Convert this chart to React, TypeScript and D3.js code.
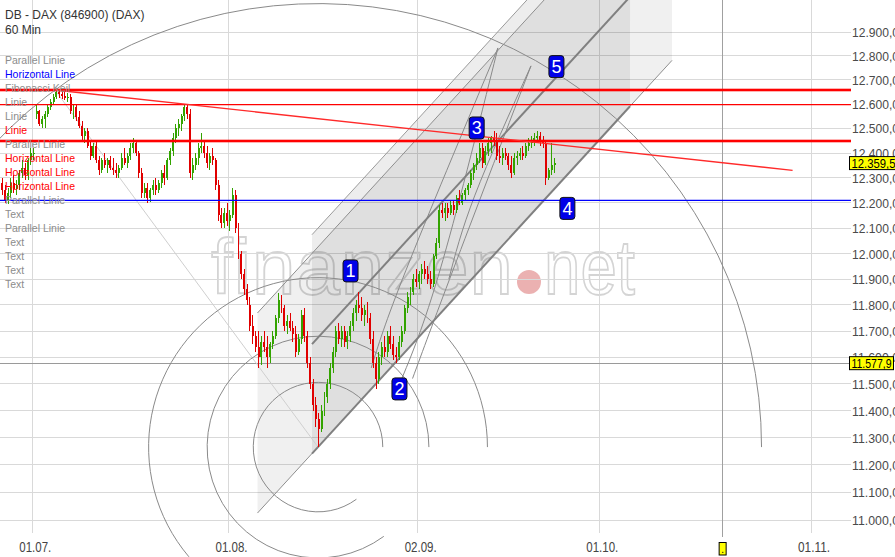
import { useMemo } from "react";
import * as d3 from "d3";

const W = 895;
const H = 557;

// x axis: trading-day index (0 = 01.07.)
const tickDays = [0, 23, 45, 66, 89];
const tickLabels = ["01.07.", "01.08.", "02.09.", "01.10.", "01.11."];
const priceTicks = [
  11000, 11100, 11200, 11300, 11400, 11500, 11600, 11700, 11800, 11900,
  12000, 12100, 12200, 12300, 12400, 12500, 12600, 12700, 12800, 12900,
];

// hourly-ish candles, 3 per trading day, starting 25.06.
const firstBarDay = -3.67;
const barsPerDay = 3;
const candles: number[][] = [
  [12280,12300,12230,12250],[12250,12270,12200,12210],[12210,12260,12195,12240],
  [12240,12300,12220,12280],[12280,12310,12240,12255],[12255,12290,12230,12270],
  [12270,12330,12250,12320],[12320,12370,12300,12340],[12340,12360,12290,12310],
  [12310,12380,12290,12370],[12370,12420,12350,12400],[12400,12420,12370,12400],
  [12560,12600,12540,12570],[12570,12575,12510,12520],[12520,12550,12500,12540],
  [12540,12570,12500,12560],[12560,12600,12545,12590],[12590,12620,12575,12610],
  [12610,12640,12600,12630],[12630,12660,12620,12650],[12650,12656,12625,12640],
  [12640,12655,12620,12635],[12635,12650,12615,12625],[12625,12645,12610,12630],
  [12630,12640,12560,12570],[12570,12600,12540,12590],[12590,12595,12530,12545],
  [12545,12570,12500,12510],[12510,12530,12450,12470],[12470,12500,12440,12490],
  [12490,12500,12420,12430],[12430,12450,12370,12390],[12390,12440,12380,12430],
  [12430,12450,12360,12370],[12370,12390,12310,12330],[12330,12380,12320,12370],
  [12370,12400,12340,12350],[12350,12380,12320,12370],[12370,12390,12330,12340],
  [12340,12380,12310,12330],[12330,12360,12300,12320],[12320,12350,12300,12340],
  [12340,12400,12330,12380],[12380,12420,12350,12360],[12360,12400,12340,12390],
  [12390,12440,12370,12420],[12420,12460,12400,12440],[12440,12450,12390,12400],
  [12400,12410,12300,12320],[12320,12340,12220,12240],[12240,12280,12220,12260],
  [12260,12280,12200,12220],[12220,12260,12205,12250],[12250,12290,12230,12270],
  [12270,12300,12230,12250],[12250,12290,12240,12280],[12280,12330,12260,12320],
  [12320,12350,12270,12300],[12300,12380,12290,12370],[12370,12420,12350,12410],
  [12410,12480,12390,12460],[12460,12520,12440,12500],[12500,12540,12470,12520],
  [12520,12560,12490,12550],[12550,12600,12530,12590],[12590,12600,12540,12560],
  [12560,12580,12300,12320],[12320,12380,12290,12350],[12350,12400,12330,12380],
  [12380,12440,12350,12420],[12420,12480,12400,12430],[12430,12450,12380,12400],
  [12400,12430,12340,12360],[12360,12400,12330,12390],[12390,12420,12350,12370],
  [12370,12380,12250,12270],[12270,12290,12130,12150],[12150,12180,12100,12120],
  [12120,12180,12100,12160],[12160,12200,12110,12130],[12130,12170,12090,12150],
  [12150,12260,12140,12230],[12230,12250,12080,12100],[12100,12120,11980,12000],
  [12000,12010,11900,11920],[11920,11940,11840,11860],[11860,11880,11800,11820],
  [11800,11830,11700,11720],[11720,11760,11650,11680],[11680,11700,11620,11640],
  [11640,11700,11560,11600],[11600,11680,11570,11660],[11660,11700,11620,11640],
  [11640,11680,11560,11600],[11600,11660,11580,11650],[11650,11700,11630,11680],
  [11680,11760,11670,11750],[11750,11845,11730,11820],[11820,11840,11770,11790],
  [11790,11800,11700,11720],[11720,11760,11690,11740],[11740,11770,11700,11710],
  [11710,11740,11660,11690],[11690,11720,11600,11620],[11620,11690,11610,11670],
  [11670,11780,11650,11760],[11760,11790,11660,11680],[11680,11700,11560,11580],
  [11580,11600,11480,11500],[11500,11520,11400,11420],[11420,11450,11340,11370],
  [11370,11390,11265,11330],[11330,11420,11320,11400],[11400,11470,11380,11450],
  [11450,11520,11430,11500],[11500,11580,11480,11560],[11560,11640,11540,11620],
  [11620,11720,11600,11700],[11700,11730,11650,11670],[11670,11720,11640,11700],
  [11700,11720,11640,11660],[11660,11700,11630,11680],[11680,11740,11660,11720],
  [11720,11790,11700,11770],[11770,11820,11740,11800],[11800,11850,11770,11790],
  [11790,11830,11740,11760],[11760,11800,11720,11780],[11780,11810,11730,11750],
  [11750,11770,11650,11670],[11670,11700,11560,11580],[11580,11600,11480,11520],
  [11520,11620,11500,11600],[11600,11660,11570,11640],[11640,11680,11600,11620],
  [11620,11700,11600,11680],[11680,11720,11630,11650],[11650,11680,11590,11610],
  [11610,11640,11580,11600],[11600,11680,11590,11660],[11660,11720,11640,11700],
  [11700,11800,11690,11790],[11790,11850,11770,11830],[11830,11870,11800,11850],
  [11850,11920,11840,11900],[11900,11940,11870,11890],[11890,11930,11860,11920],
  [11920,11960,11880,11940],[11940,11970,11900,11920],[11920,11950,11880,11900],
  [11900,11930,11860,11880],[11880,12000,11870,11990],[11990,12060,11980,12040],
  [12040,12190,12020,12170],[12170,12200,12140,12160],[12160,12200,12130,12180],
  [12180,12200,12140,12160],[12160,12210,12150,12190],[12190,12210,12150,12170],
  [12170,12230,12160,12220],[12220,12250,12190,12200],[12200,12240,12190,12230],
  [12230,12260,12210,12250],[12250,12280,12230,12270],[12270,12330,12260,12320],
  [12320,12360,12290,12350],[12350,12400,12330,12380],[12380,12440,12360,12420],
  [12420,12440,12340,12360],[12360,12430,12350,12410],[12410,12460,12390,12440],
  [12440,12470,12400,12460],[12460,12490,12430,12450],[12450,12480,12370,12390],
  [12390,12430,12360,12380],[12380,12420,12350,12400],[12400,12420,12370,12390],
  [12390,12400,12330,12350],[12350,12390,12300,12320],[12320,12400,12310,12380],
  [12380,12410,12350,12390],[12390,12420,12370,12400],[12400,12430,12370,12390],
  [12390,12440,12380,12430],[12430,12460,12410,12440],[12440,12470,12420,12450],
  [12450,12480,12430,12460],[12460,12490,12440,12470],[12470,12485,12430,12450],
  [12450,12470,12420,12440],[12440,12450,12270,12300],[12300,12340,12290,12330],
  [12330,12440,12310,12350],[12350,12380,12320,12359.5],
];

const lastPrice = 12359.5;
const crossPrice = 11577.9;
const eventDay = 79.4;

// drawings
const redLevels = [12658, 12598, 12449];
const redLevelBold = [true, false, true];
const blueLevel = 12210;
const trendLine = [[2.66, 12658], [87.0, 12330]];
const fibHigh = [2.66, 12658];
const fibLow = [33.41, 11265];
const fibLevels = [0.146, 0.25, 0.382, 1];
const channelOuter = { from: [26.37, 11025], to: [73.9, 12781], upper: 1.0675 };
const channelInner = { from: [32.71, 11241], to: [69.34, 12591], upper: 1.0741, middle: 1.0364 };
const wedgeCurves = [
  [[39.6, 11560], [43.64, 11935], [54.28, 12833]],
  [[42.9, 11500], [47.58, 11935], [54.28, 12833]],
  [[44.4, 11520], [49.08, 11935], [58.1, 12758]],
  [[48.6, 11900], [51.62, 12231], [58.1, 12758]],
];
const markerLabels = ["1", "2", "3", "4", "5"];
const markerDays = [37.19, 42.88, 51.82, 62.31, 61.04];
const markerPrices = [11932, 11481, 12502, 12178, 12755];

const legendItems = [
  "Parallel Linie", "Horizontal Line", "Fibonacci Keil", "Linie", "Linie", "Linie",
  "Parallel Linie", "Horizontal Line", "Horizontal Line", "Horizontal Line",
  "Parallel Linie", "Text", "Parallel Linie", "Text", "Text", "Text", "Text",
];
const legendKinds = ["g", "b", "g", "g", "g", "r", "g", "r", "r", "r", "g", "g", "g", "g", "g", "g", "g"];

const GRID = "#d9d9d9";
const UP = "#33a300";
const DOWN = "#e00000";
const NARROW = "'Liberation Sans Narrow', 'Arial Narrow', 'Liberation Sans', Arial, sans-serif";
const SANS = "'Liberation Sans', Arial, sans-serif";

const de = d3.formatLocale({ decimal: ",", thousands: ".", grouping: [3], currency: ["", ""] });
const fmt = de.format(",.1f");

export default function App() {
  const xs = useMemo(
    () => d3.scaleLinear().domain(tickDays).range([32.3, 228.5, 417.7, 599.3, 811]),
    []
  );
  const ys = useMemo(() => d3.scaleLog().domain([11000, 12900]).range([520, 32]), []);
  const plotRight = 851;

  const pt = (p: number[]) => [xs(p[0]), ys(p[1])];

  // fibonacci arcs around the August low
  const [cx, cy] = pt(fibLow);
  const [hx, hy] = pt(fibHigh);
  const baseR = Math.hypot(cx - hx, cy - hy);
  const endAngle = Math.atan2(cy - hy, cx - hx);
  const arcs = fibLevels.map((f) => {
    const p = d3.path();
    const r = baseR * f;
    p.moveTo(cx + r, cy);
    p.arc(cx, cy, r, 0, endAngle, true);
    return p.toString();
  });

  const chanPoly = (c: any, k: number) => {
    const a = pt(c.from), b = pt(c.to);
    const a2 = pt([c.from[0], c.from[1] * k]), b2 = pt([c.to[0], c.to[1] * k]);
    return `M${a[0]},${a[1]}L${b[0]},${b[1]}L${b2[0]},${b2[1]}L${a2[0]},${a2[1]}Z`;
  };
  const chanLine = (c: any, k: number) => {
    const a = pt([c.from[0], c.from[1] * k]), b = pt([c.to[0], c.to[1] * k]);
    return { x1: a[0], y1: a[1], x2: b[0], y2: b[1] };
  };

  const curveGen = d3
    .line<number[]>()
    .x((d) => xs(d[0]))
    .y((d) => ys(d[1]))
    .curve(d3.curveNatural);

  const step = (xs(1) - xs(0)) / barsPerDay;
  const bw = Math.max(1, step * 0.7);

  const legendColor = (k: string) => (k === "r" ? "#ff0000" : k === "b" ? "#0000ff" : "#8c8c8c");

  const tl0 = pt(trendLine[0]);
  const tl1 = pt(trendLine[1]);
  const ex = xs(eventDay);

  return (
    <svg
      width={W}
      height={H}
      style={{ position: "absolute", left: 0, top: 0, background: "#fff" }}
      fontFamily={SANS}
    >
      <rect width={W} height={H} fill="#fff" />

      {/* watermark */}
      <g fill="none" stroke="#d4d4d4" strokeWidth={1.8} fontFamily={SANS} fontSize={78}>
        <text x={211} y={294} textLength={302} lengthAdjust="spacing">finanzen</text>
        <text x={544} y={294} textLength={91} lengthAdjust="spacingAndGlyphs">net</text>
      </g>
      <circle cx={529} cy={282} r={12} fill="#e8a3a3" opacity={0.85} />

      {/* grid */}
      {priceTicks.map((p) => (
        <line key={p} x1={0} x2={plotRight} y1={ys(p)} y2={ys(p)} stroke={GRID} shapeRendering="crispEdges" />
      ))}
      {tickDays.map((d) => (
        <line key={d} x1={xs(d)} x2={xs(d)} y1={0} y2={533} stroke={GRID} shapeRendering="crispEdges" />
      ))}

      {/* channel shading */}
      <path d={chanPoly(channelOuter, channelOuter.upper)} fill="#000" fillOpacity={0.06} />
      <path d={chanPoly(channelInner, channelInner.upper)} fill="#000" fillOpacity={0.07} />

      {/* event line and cross line */}
      <line x1={ex} x2={ex} y1={0} y2={537} stroke="#a0a0a0" shapeRendering="crispEdges" />
      <line x1={0} x2={plotRight} y1={ys(crossPrice)} y2={ys(crossPrice)} stroke="#9a9a9a" shapeRendering="crispEdges" />

      {/* fibonacci */}
      <line x1={hx} y1={hy} x2={cx} y2={cy} stroke="#cfcfcf" />
      {arcs.map((d, i) => (
        <path key={i} d={d} fill="none" stroke="#8a8a8a" strokeWidth={1} />
      ))}
      {wedgeCurves.map((c, i) => (
        <path key={i} d={curveGen(c) || ""} fill="none" stroke="#8a8a8a" strokeWidth={1} />
      ))}

      {/* channel lines */}
      <line {...chanLine(channelOuter, 1)} stroke="#8e8e8e" strokeWidth={1} />
      <line {...chanLine(channelOuter, channelOuter.upper)} stroke="#8e8e8e" strokeWidth={1} />
      <line {...chanLine(channelInner, 1)} stroke="#808080" strokeWidth={2} />
      <line {...chanLine(channelInner, channelInner.middle)} stroke="#808080" strokeWidth={2} />
      <line {...chanLine(channelInner, channelInner.upper)} stroke="#9a9a9a" strokeWidth={1} />

      {/* candles */}
      <g shapeRendering="crispEdges">
        {candles.map((c, i) => {
          const [o, h, l, cl] = c;
          const x = xs(firstBarDay + (i + 0.5) / barsPerDay);
          const col = cl >= o ? UP : DOWN;
          const top = ys(Math.max(o, cl));
          const bh = Math.max(1, Math.abs(ys(o) - ys(cl)));
          return (
            <g key={i}>
              <line x1={x} x2={x} y1={ys(h)} y2={ys(l)} stroke={col} />
              <rect x={x - bw / 2} y={top} width={bw} height={bh} fill={col} />
            </g>
          );
        })}
      </g>

      {/* horizontal levels */}
      {redLevels.map((p, i) =>
        redLevelBold[i] ? (
          <g key={p}>
            <line x1={0} x2={plotRight} y1={ys(p)} y2={ys(p)} stroke="#ff0000" strokeOpacity={0.3} strokeWidth={4} />
            <line x1={0} x2={plotRight} y1={ys(p)} y2={ys(p)} stroke="#ff0000" strokeWidth={2} />
          </g>
        ) : (
          <line key={p} x1={0} x2={plotRight} y1={ys(p)} y2={ys(p)} stroke="#ff0000" strokeWidth={1.2} />
        )
      )}
      <line x1={0} x2={plotRight} y1={ys(blueLevel)} y2={ys(blueLevel)} stroke="#0000ff" strokeWidth={1.3} />
      <line x1={tl0[0]} y1={tl0[1]} x2={tl1[0]} y2={tl1[1]} stroke="#ff2a2a" strokeWidth={1.4} />

      {/* numbered markers */}
      {markerLabels.map((m, i) => {
        const x = xs(markerDays[i]);
        const y = ys(markerPrices[i]);
        return (
          <g key={m}>
            <rect x={x - 7.5} y={y - 11} width={15} height={22} rx={3} fill="#0000e8" stroke="#111" />
            <text x={x} y={y + 6.5} textAnchor="middle" fill="#fff" fontSize={18} fontFamily={SANS}>
              {m}
            </text>
          </g>
        );
      })}

      {/* y axis labels */}
      {priceTicks.map((p) => (
        <text key={p} x={852} y={ys(p) + 5} fontSize={13.5} fontFamily={NARROW} fill="#4a4a4a" textLength={47} lengthAdjust="spacingAndGlyphs">
          {fmt(p)}
        </text>
      ))}
      {[lastPrice, crossPrice].map((p, i) => (
        <g key={p}>
          <rect x={849.5} y={ys(p) - 6.5} width={i === 0 ? 50 : 44} height={13} fill="#ffff00" stroke="#000" />
          <text x={851.5} y={ys(p) + 4.5} fontSize={13} fontFamily={NARROW} fill="#000" textLength={i === 0 ? 44 : 40} lengthAdjust="spacingAndGlyphs">
            {fmt(p)}
          </text>
        </g>
      ))}

      {/* x axis labels */}
      {tickDays.map((d, i) => (
        <text key={d} x={xs(d) + 3} y={552} textAnchor="middle" fontSize={14} fontFamily={NARROW} fill="#444" textLength={32} lengthAdjust="spacingAndGlyphs">
          {tickLabels[i]}
        </text>
      ))}
      <rect x={ex - 3.5} y={542.5} width={7} height={12.5} fill="#ffff00" stroke="#000" />
      <text x={ex} y={553} textAnchor="middle" fontSize={10} fill="#000">.</text>

      {/* title and legend */}
      <text x={5} y={19} fontSize={12} fill="#333">DB - DAX (846900) (DAX)</text>
      <text x={5} y={34} fontSize={12} fill="#333">60 Min</text>
      {legendItems.map((t, i) => (
        <text key={i} x={5} y={64 + i * 14} fontSize={10.5} fill={legendColor(legendKinds[i])}>
          {t}
        </text>
      ))}
    </svg>
  );
}
